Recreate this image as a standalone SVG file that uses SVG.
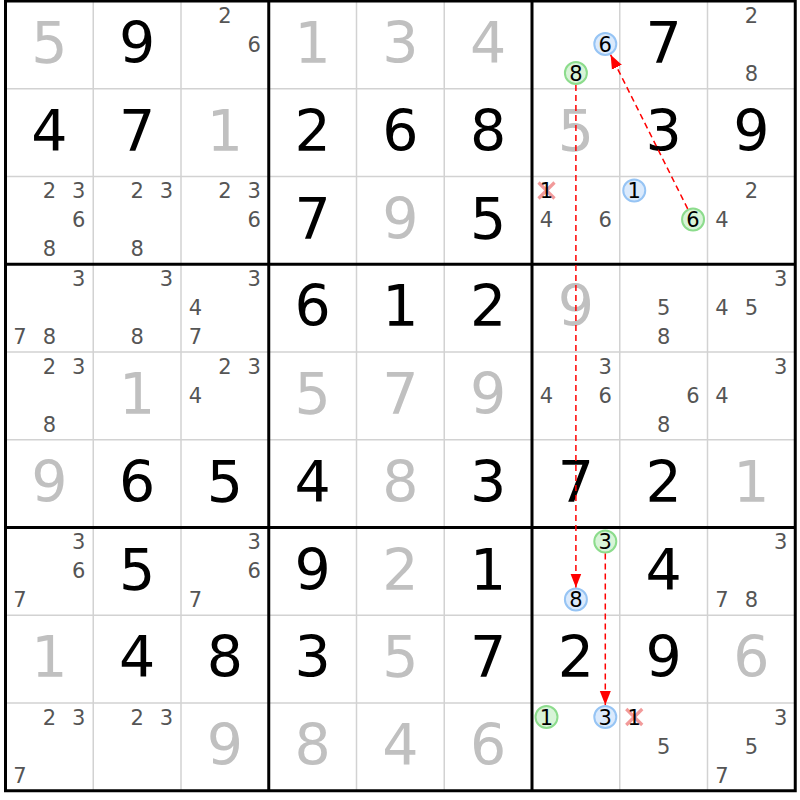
<svg xmlns="http://www.w3.org/2000/svg" width="800" height="800" viewBox="0 0 800 800">
<defs>
<style>
.thin{stroke:#d2d2d2;stroke-width:1.5}
.thick{stroke:#000;stroke-width:3;fill:none}
text{font-family:"DejaVu Sans",Verdana,sans-serif;text-anchor:middle}
.g{font-size:57px;fill:#000}
.s{font-size:57px;fill:#c0c0c0}
.c{font-size:21px;fill:#555}
.k{font-size:21px;fill:#000}
.bl{fill:#dbeafc;stroke:#96c4f4;stroke-width:2}
.gr{fill:#d8f4d8;stroke:#8cdc8c;stroke-width:2}
.x{stroke:#f29a9a;stroke-width:3.2}
.arrow{stroke:#f00;stroke-width:1.5;stroke-dasharray:6 4;fill:none;marker-end:url(#ah)}
</style>
<marker id="ah" markerUnits="userSpaceOnUse" markerWidth="15" markerHeight="12" viewBox="0 0 15 12" refX="14" refY="6" orient="auto">
<path d="M0,0.5 L14,6 L0,11.5 z" fill="#f00"/>
</marker>
</defs>
<rect width="800" height="800" fill="#fff"/>
<g id="grid">
<g class="thin">
<line x1="93.25" y1="1" x2="93.25" y2="790.75"/>
<line x1="181" y1="1" x2="181" y2="790.75"/>
<line x1="356.5" y1="1" x2="356.5" y2="790.75"/>
<line x1="444.25" y1="1" x2="444.25" y2="790.75"/>
<line x1="619.75" y1="1" x2="619.75" y2="790.75"/>
<line x1="707.5" y1="1" x2="707.5" y2="790.75"/>
<line x1="5.5" y1="88.75" x2="795.25" y2="88.75"/>
<line x1="5.5" y1="176.5" x2="795.25" y2="176.5"/>
<line x1="5.5" y1="352" x2="795.25" y2="352"/>
<line x1="5.5" y1="439.75" x2="795.25" y2="439.75"/>
<line x1="5.5" y1="615.25" x2="795.25" y2="615.25"/>
<line x1="5.5" y1="703" x2="795.25" y2="703"/>
</g>
<g class="thick">
<line x1="268.75" y1="1" x2="268.75" y2="790.75"/>
<line x1="532" y1="1" x2="532" y2="790.75"/>
<line x1="5.5" y1="264.25" x2="795.25" y2="264.25"/>
<line x1="5.5" y1="527.5" x2="795.25" y2="527.5"/>
<rect x="5.5" y="1" width="789.75" height="789.75"/>
</g>
</g>

<!-- Row 0 -->
<g id="r0c0" transform="translate(5.5,1)"><text class="s" x="43.9" y="62">5</text></g>
<g id="r0c1" transform="translate(93.25,1)"><text class="g" x="43.9" y="62">9</text></g>
<g id="r0c2" transform="translate(181,1)"><text class="c" x="43.9" y="21.6">2</text><text class="c" x="73.3" y="50.6">6</text></g>
<g id="r0c3" transform="translate(268.75,1)"><text class="s" x="43.9" y="62">1</text></g>
<g id="r0c4" transform="translate(356.5,1)"><text class="s" x="43.9" y="62">3</text></g>
<g id="r0c5" transform="translate(444.25,1)"><text class="s" x="43.9" y="62">4</text></g>
<g id="r0c6" transform="translate(532,1)"><circle class="bl" cx="73.3" cy="43" r="11"/><text class="k" x="73.3" y="50.6">6</text><circle class="gr" cx="43.9" cy="72" r="11"/><text class="k" x="43.9" y="79.6">8</text></g>
<g id="r0c7" transform="translate(619.75,1)"><text class="g" x="43.9" y="62">7</text></g>
<g id="r0c8" transform="translate(707.5,1)"><text class="c" x="43.9" y="21.6">2</text><text class="c" x="43.9" y="79.6">8</text></g>

<!-- Row 1 -->
<g id="r1c0" transform="translate(5.5,88.75)"><text class="g" x="43.9" y="62">4</text></g>
<g id="r1c1" transform="translate(93.25,88.75)"><text class="g" x="43.9" y="62">7</text></g>
<g id="r1c2" transform="translate(181,88.75)"><text class="s" x="43.9" y="62">1</text></g>
<g id="r1c3" transform="translate(268.75,88.75)"><text class="g" x="43.9" y="62">2</text></g>
<g id="r1c4" transform="translate(356.5,88.75)"><text class="g" x="43.9" y="62">6</text></g>
<g id="r1c5" transform="translate(444.25,88.75)"><text class="g" x="43.9" y="62">8</text></g>
<g id="r1c6" transform="translate(532,88.75)"><text class="s" x="43.9" y="62">5</text></g>
<g id="r1c7" transform="translate(619.75,88.75)"><text class="g" x="43.9" y="62">3</text></g>
<g id="r1c8" transform="translate(707.5,88.75)"><text class="g" x="43.9" y="62">9</text></g>

<!-- Row 2 -->
<g id="r2c0" transform="translate(5.5,176.5)"><text class="c" x="43.9" y="21.6">2</text><text class="c" x="73.3" y="21.6">3</text><text class="c" x="73.3" y="50.6">6</text><text class="c" x="43.9" y="79.6">8</text></g>
<g id="r2c1" transform="translate(93.25,176.5)"><text class="c" x="43.9" y="21.6">2</text><text class="c" x="73.3" y="21.6">3</text><text class="c" x="43.9" y="79.6">8</text></g>
<g id="r2c2" transform="translate(181,176.5)"><text class="c" x="43.9" y="21.6">2</text><text class="c" x="73.3" y="21.6">3</text><text class="c" x="73.3" y="50.6">6</text></g>
<g id="r2c3" transform="translate(268.75,176.5)"><text class="g" x="43.9" y="62">7</text></g>
<g id="r2c4" transform="translate(356.5,176.5)"><text class="s" x="43.9" y="62">9</text></g>
<g id="r2c5" transform="translate(444.25,176.5)"><text class="g" x="43.9" y="62">5</text></g>
<g id="r2c6" transform="translate(532,176.5)"><line class="x" x1="6.5" y1="6" x2="22.5" y2="22"/><line class="x" x1="22.5" y1="6" x2="6.5" y2="22"/><text class="k" x="14.5" y="21.6">1</text><text class="c" x="14.5" y="50.6">4</text><text class="c" x="73.3" y="50.6">6</text></g>
<g id="r2c7" transform="translate(619.75,176.5)"><circle class="bl" cx="14.5" cy="14" r="11"/><text class="k" x="14.5" y="21.6">1</text><circle class="gr" cx="73.3" cy="43" r="11"/><text class="k" x="73.3" y="50.6">6</text></g>
<g id="r2c8" transform="translate(707.5,176.5)"><text class="c" x="43.9" y="21.6">2</text><text class="c" x="14.5" y="50.6">4</text></g>

<!-- Row 3 -->
<g id="r3c0" transform="translate(5.5,264.25)"><text class="c" x="73.3" y="21.6">3</text><text class="c" x="14.5" y="79.6">7</text><text class="c" x="43.9" y="79.6">8</text></g>
<g id="r3c1" transform="translate(93.25,264.25)"><text class="c" x="73.3" y="21.6">3</text><text class="c" x="43.9" y="79.6">8</text></g>
<g id="r3c2" transform="translate(181,264.25)"><text class="c" x="73.3" y="21.6">3</text><text class="c" x="14.5" y="50.6">4</text><text class="c" x="14.5" y="79.6">7</text></g>
<g id="r3c3" transform="translate(268.75,264.25)"><text class="g" x="43.9" y="62">6</text></g>
<g id="r3c4" transform="translate(356.5,264.25)"><text class="g" x="43.9" y="62">1</text></g>
<g id="r3c5" transform="translate(444.25,264.25)"><text class="g" x="43.9" y="62">2</text></g>
<g id="r3c6" transform="translate(532,264.25)"><text class="s" x="43.9" y="62">9</text></g>
<g id="r3c7" transform="translate(619.75,264.25)"><text class="c" x="43.9" y="50.6">5</text><text class="c" x="43.9" y="79.6">8</text></g>
<g id="r3c8" transform="translate(707.5,264.25)"><text class="c" x="73.3" y="21.6">3</text><text class="c" x="14.5" y="50.6">4</text><text class="c" x="43.9" y="50.6">5</text></g>

<!-- Row 4 -->
<g id="r4c0" transform="translate(5.5,352)"><text class="c" x="43.9" y="21.6">2</text><text class="c" x="73.3" y="21.6">3</text><text class="c" x="43.9" y="79.6">8</text></g>
<g id="r4c1" transform="translate(93.25,352)"><text class="s" x="43.9" y="62">1</text></g>
<g id="r4c2" transform="translate(181,352)"><text class="c" x="43.9" y="21.6">2</text><text class="c" x="73.3" y="21.6">3</text><text class="c" x="14.5" y="50.6">4</text></g>
<g id="r4c3" transform="translate(268.75,352)"><text class="s" x="43.9" y="62">5</text></g>
<g id="r4c4" transform="translate(356.5,352)"><text class="s" x="43.9" y="62">7</text></g>
<g id="r4c5" transform="translate(444.25,352)"><text class="s" x="43.9" y="62">9</text></g>
<g id="r4c6" transform="translate(532,352)"><text class="c" x="73.3" y="21.6">3</text><text class="c" x="14.5" y="50.6">4</text><text class="c" x="73.3" y="50.6">6</text></g>
<g id="r4c7" transform="translate(619.75,352)"><text class="c" x="73.3" y="50.6">6</text><text class="c" x="43.9" y="79.6">8</text></g>
<g id="r4c8" transform="translate(707.5,352)"><text class="c" x="73.3" y="21.6">3</text><text class="c" x="14.5" y="50.6">4</text></g>

<!-- Row 5 -->
<g id="r5c0" transform="translate(5.5,439.75)"><text class="s" x="43.9" y="62">9</text></g>
<g id="r5c1" transform="translate(93.25,439.75)"><text class="g" x="43.9" y="62">6</text></g>
<g id="r5c2" transform="translate(181,439.75)"><text class="g" x="43.9" y="62">5</text></g>
<g id="r5c3" transform="translate(268.75,439.75)"><text class="g" x="43.9" y="62">4</text></g>
<g id="r5c4" transform="translate(356.5,439.75)"><text class="s" x="43.9" y="62">8</text></g>
<g id="r5c5" transform="translate(444.25,439.75)"><text class="g" x="43.9" y="62">3</text></g>
<g id="r5c6" transform="translate(532,439.75)"><text class="g" x="43.9" y="62">7</text></g>
<g id="r5c7" transform="translate(619.75,439.75)"><text class="g" x="43.9" y="62">2</text></g>
<g id="r5c8" transform="translate(707.5,439.75)"><text class="s" x="43.9" y="62">1</text></g>

<!-- Row 6 -->
<g id="r6c0" transform="translate(5.5,527.5)"><text class="c" x="73.3" y="21.6">3</text><text class="c" x="73.3" y="50.6">6</text><text class="c" x="14.5" y="79.6">7</text></g>
<g id="r6c1" transform="translate(93.25,527.5)"><text class="g" x="43.9" y="62">5</text></g>
<g id="r6c2" transform="translate(181,527.5)"><text class="c" x="73.3" y="21.6">3</text><text class="c" x="73.3" y="50.6">6</text><text class="c" x="14.5" y="79.6">7</text></g>
<g id="r6c3" transform="translate(268.75,527.5)"><text class="g" x="43.9" y="62">9</text></g>
<g id="r6c4" transform="translate(356.5,527.5)"><text class="s" x="43.9" y="62">2</text></g>
<g id="r6c5" transform="translate(444.25,527.5)"><text class="g" x="43.9" y="62">1</text></g>
<g id="r6c6" transform="translate(532,527.5)"><circle class="gr" cx="73.3" cy="14" r="11"/><text class="k" x="73.3" y="21.6">3</text><circle class="bl" cx="43.9" cy="72" r="11"/><text class="k" x="43.9" y="79.6">8</text></g>
<g id="r6c7" transform="translate(619.75,527.5)"><text class="g" x="43.9" y="62">4</text></g>
<g id="r6c8" transform="translate(707.5,527.5)"><text class="c" x="73.3" y="21.6">3</text><text class="c" x="14.5" y="79.6">7</text><text class="c" x="43.9" y="79.6">8</text></g>

<!-- Row 7 -->
<g id="r7c0" transform="translate(5.5,615.25)"><text class="s" x="43.9" y="62">1</text></g>
<g id="r7c1" transform="translate(93.25,615.25)"><text class="g" x="43.9" y="62">4</text></g>
<g id="r7c2" transform="translate(181,615.25)"><text class="g" x="43.9" y="62">8</text></g>
<g id="r7c3" transform="translate(268.75,615.25)"><text class="g" x="43.9" y="62">3</text></g>
<g id="r7c4" transform="translate(356.5,615.25)"><text class="s" x="43.9" y="62">5</text></g>
<g id="r7c5" transform="translate(444.25,615.25)"><text class="g" x="43.9" y="62">7</text></g>
<g id="r7c6" transform="translate(532,615.25)"><text class="g" x="43.9" y="62">2</text></g>
<g id="r7c7" transform="translate(619.75,615.25)"><text class="g" x="43.9" y="62">9</text></g>
<g id="r7c8" transform="translate(707.5,615.25)"><text class="s" x="43.9" y="62">6</text></g>

<!-- Row 8 -->
<g id="r8c0" transform="translate(5.5,703)"><text class="c" x="43.9" y="21.6">2</text><text class="c" x="73.3" y="21.6">3</text><text class="c" x="14.5" y="79.6">7</text></g>
<g id="r8c1" transform="translate(93.25,703)"><text class="c" x="43.9" y="21.6">2</text><text class="c" x="73.3" y="21.6">3</text></g>
<g id="r8c2" transform="translate(181,703)"><text class="s" x="43.9" y="62">9</text></g>
<g id="r8c3" transform="translate(268.75,703)"><text class="s" x="43.9" y="62">8</text></g>
<g id="r8c4" transform="translate(356.5,703)"><text class="s" x="43.9" y="62">4</text></g>
<g id="r8c5" transform="translate(444.25,703)"><text class="s" x="43.9" y="62">6</text></g>
<g id="r8c6" transform="translate(532,703)"><circle class="gr" cx="14.5" cy="14" r="11"/><text class="k" x="14.5" y="21.6">1</text><circle class="bl" cx="73.3" cy="14" r="11"/><text class="k" x="73.3" y="21.6">3</text></g>
<g id="r8c7" transform="translate(619.75,703)"><line class="x" x1="6.5" y1="6" x2="22.5" y2="22"/><line class="x" x1="22.5" y1="6" x2="6.5" y2="22"/><text class="k" x="14.5" y="21.6">1</text><text class="c" x="43.9" y="50.6">5</text></g>
<g id="r8c8" transform="translate(707.5,703)"><text class="c" x="73.3" y="21.6">3</text><text class="c" x="43.9" y="50.6">5</text><text class="c" x="14.5" y="79.6">7</text></g>

<g id="connectors">
<path class="arrow" d="M575.9,85 L575.9,587.5"/>
<path class="arrow" d="M605.3,553.5 L605.3,705"/>
<path class="arrow" d="M687.7,208.8 L610.6,54.8"/>
</g>
</svg>
